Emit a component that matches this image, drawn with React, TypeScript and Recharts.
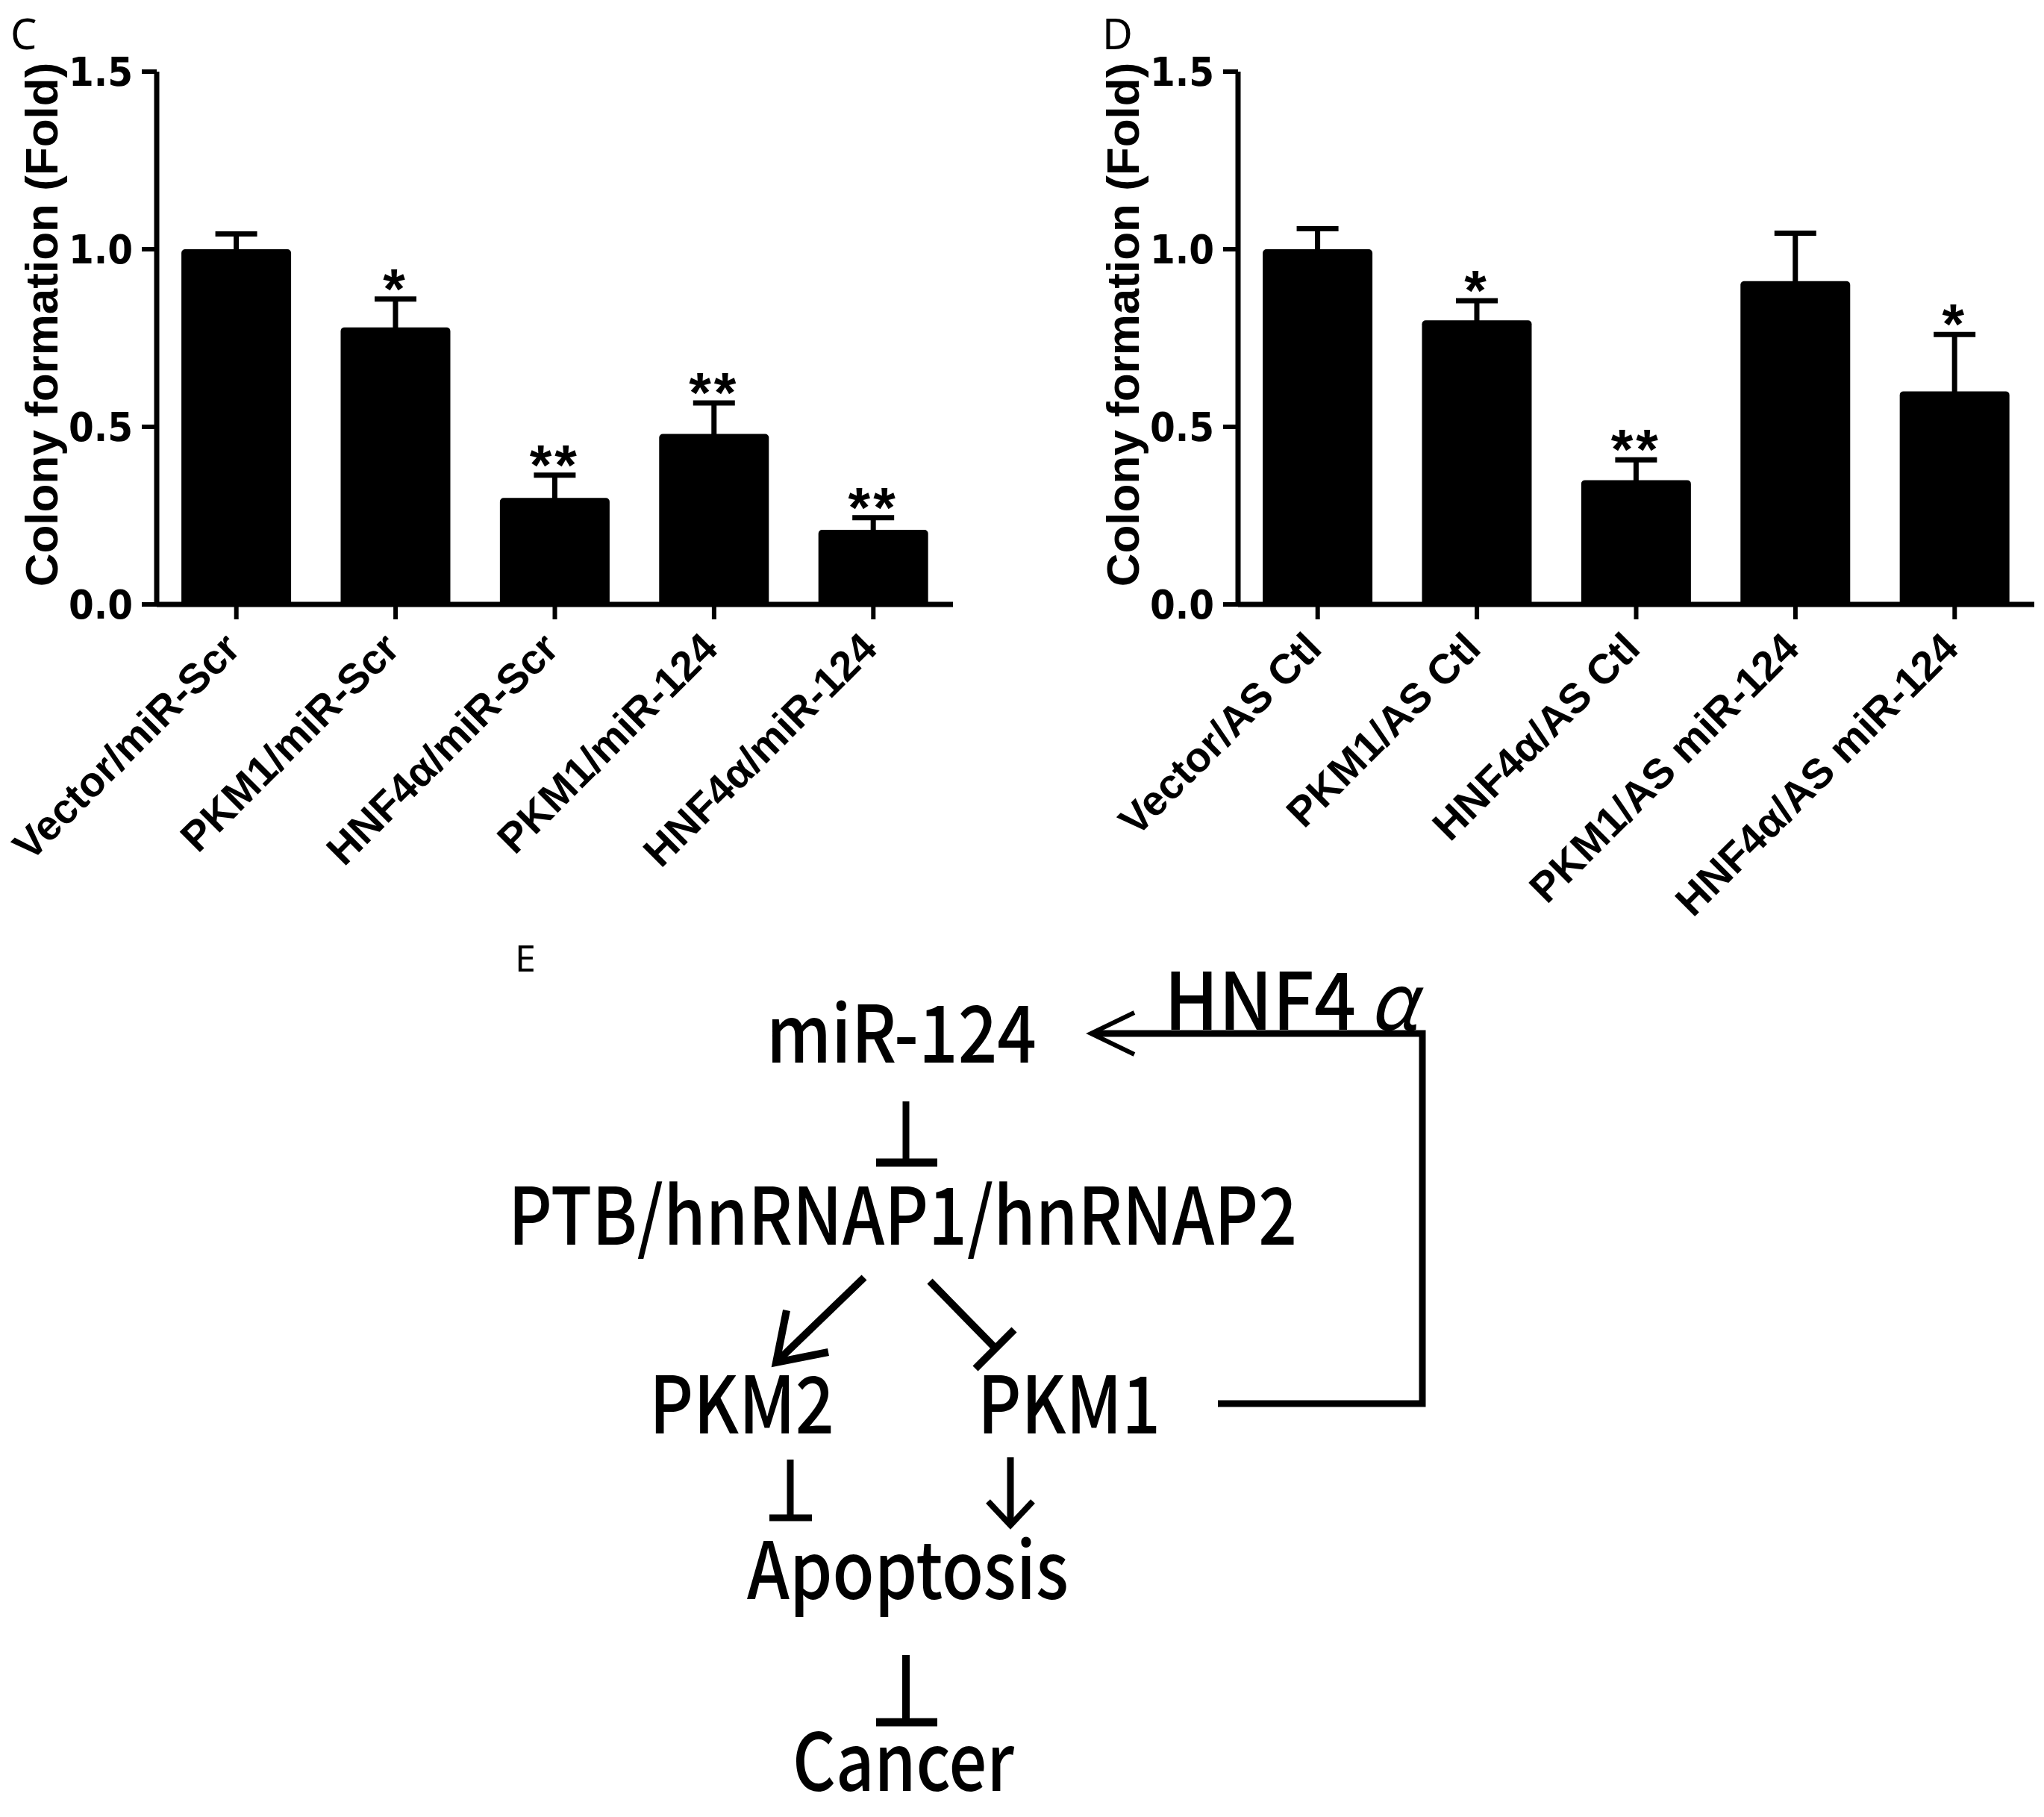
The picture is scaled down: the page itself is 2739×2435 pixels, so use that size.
import React from 'react';
import { BarChart, Bar, XAxis, YAxis, ErrorBar, LabelList } from 'recharts';

// Panel C: colony formation after overexpression + miR-124 mimic
const cGroups = ['Vector/miR-Scr', 'PKM1/miR-Scr', 'HNF4α/miR-Scr', 'PKM1/miR-124', 'HNF4α/miR-124'];
const cMeans = [1.0, 0.78, 0.3, 0.48, 0.21];
const cErrors = [0.043, 0.08, 0.064, 0.087, 0.034];
const cStars = ['', '*', '**', '**', '**'];

// Panel D: colony formation after overexpression + antisense miR-124
const dGroups = ['Vector/AS Ctl', 'PKM1/AS Ctl', 'HNF4α/AS Ctl', 'PKM1/AS miR-124', 'HNF4α/AS miR-124'];
const dMeans = [1.0, 0.8, 0.35, 0.91, 0.6];
const dErrors = [0.058, 0.055, 0.057, 0.135, 0.16];
const dStars = ['', '*', '**', '', '*'];

const yTicks = [0, 0.5, 1.0, 1.5];

const ARIAL = "'Liberation Sans', Arial, sans-serif";
const NARROW = "'Liberation Sans Narrow', 'Arial Narrow', 'DejaVu Sans Condensed', sans-serif";
const SEGOE = "'Noto Sans CJK SC', 'Noto Sans', sans-serif";
const LATIN = "'Noto Sans', 'Open Sans', sans-serif";

const AngledTick = (props: any) => {
    const { x, y, payload } = props;
    const ax = x + 8;
    const ay = y + 40;
    return (
        <text
            x={ax}
            y={ay}
            transform={`rotate(-45 ${ax} ${ay})`}
            textAnchor="end"
            fontFamily={ARIAL}
            fontWeight="bold"
            fontSize={56}
            fill="#000"
        >
            {payload.value}
        </text>
    );
};

const starLabel = (rows: any[]) => (props: any) => {
    const vb = props.viewBox || props;
    const { x, y, width, height } = vb;
    const row = rows[props.index];
    if (!row || !row.star) return null;
    // px per unit from the bar itself, to reach the top of the error cap
    const capY = y - row.err * (height / row.mean);
    return (
        <text
            x={x + width / 2}
            y={capY + 12}
            textAnchor="middle"
            fontFamily={ARIAL}
            fontWeight="bold"
            fontSize={76}
            letterSpacing={4}
            fill="#000"
        >
            {row.star}
        </text>
    );
};

interface PanelProps {
    left: number;
    groups: string[];
    means: number[];
    errors: number[];
    stars: string[];
}

const Panel: React.FC<PanelProps> = ({ left, groups, means, errors, stars }) => {
    const rows = groups.map((name, i) => ({ name, mean: means[i], err: errors[i], star: stars[i] }));

    return (
        <div style={{ position: 'absolute', left, top: 0 }}>
            <BarChart
                width={1290}
                height={1300}
                data={rows}
                margin={{ top: 96, right: 13, bottom: 20, left: 0 }}
                barCategoryGap="15.5%"
            >
                <XAxis
                    dataKey="name"
                    height={470}
                    interval={0}
                    tick={<AngledTick />}
                    tickSize={20}
                    axisLine={{ stroke: '#000', strokeWidth: 7 }}
                    tickLine={{ stroke: '#000', strokeWidth: 6 }}
                />
                <YAxis
                    width={210}
                    domain={[0, 1.5]}
                    ticks={yTicks}
                    tickFormatter={(v) => v.toFixed(1)}
                    tickSize={20}
                    tickMargin={12}
                    axisLine={{ stroke: '#000', strokeWidth: 7 }}
                    tickLine={{ stroke: '#000', strokeWidth: 6 }}
                    tick={{ fill: '#000', fontFamily: NARROW, fontWeight: 'bold', fontSize: 54 }}
                    label={{
                        value: 'Colony formation (Fold)',
                        angle: -90,
                        position: 'insideLeft',
                        dx: 50,
                        dy: -18,
                        style: { textAnchor: 'middle', fontFamily: ARIAL, fontWeight: 'bold', fontSize: 62, fill: '#000' },
                    }}
                />
                <Bar dataKey="mean" fill="#000" radius={[5, 5, 0, 0]} isAnimationActive={false}>
                    <ErrorBar dataKey="err" width={28} stroke="#000" strokeWidth={7} direction="y" />
                    <LabelList dataKey="star" content={starLabel(rows)} />
                </Bar>
            </BarChart>
        </div>
    );
};

// Panel letters and the E pathway schematic
const Schematic: React.FC = () => {
    const txt = { fontFamily: SEGOE, fontSize: 106, fontWeight: 500, fill: '#000', lengthAdjust: 'spacingAndGlyphs' } as const;
    const line = { stroke: '#000', strokeWidth: 9, fill: 'none' } as const;
    const letter = { fontFamily: LATIN, fontSize: 56, fill: '#000' } as const;
    return (
        <svg width={2739} height={2435} style={{ position: 'absolute', left: 0, top: 0 }}>
            <text x={14} y={66} {...letter}>C</text>
            <text x={1477} y={66} {...letter}>D</text>
            <text x={690} y={1302} {...letter} fontSize={50}>E</text>

            <text x={1027} y={1424} textLength={362} {...txt}>miR-124</text>
            <text x={1560} y={1380} textLength={257} {...txt}>HNF4</text>
            <text x={1834} y={1380} fontFamily={SEGOE} fontSize={104} fontStyle="italic" fill="#000">α</text>

            <polyline points="1632,1881 1906,1881 1906,1385 1466,1385" {...line} />
            <polyline points="1520,1357 1462,1385 1520,1413" {...line} strokeWidth={6} />

            <line x1={1214} y1={1476} x2={1214} y2={1556} {...line} />
            <line x1={1174} y1={1558} x2={1256} y2={1558} {...line} strokeWidth={11} />

            <text x={681} y={1668} textLength={1057} {...txt}>PTB/hnRNAP1/hnRNAP2</text>

            <line x1={1158} y1={1712} x2={1046} y2={1820} {...line} strokeWidth={10} />
            <polyline points="1054,1756 1040,1826 1110,1812" {...line} strokeWidth={10} />

            <line x1={1246} y1={1717} x2={1333} y2={1806} {...line} strokeWidth={10} />
            <line x1={1307} y1={1834} x2={1359} y2={1782} {...line} strokeWidth={10} />

            <text x={870} y={1921} textLength={248} {...txt}>PKM2</text>
            <text x={1310} y={1921} textLength={245} {...txt}>PKM1</text>

            <line x1={1059} y1={1956} x2={1059} y2={2033} {...line} />
            <line x1={1031} y1={2034} x2={1088} y2={2034} {...line} strokeWidth={9} />

            <line x1={1354} y1={1953} x2={1354} y2={2042} {...line} />
            <polyline points="1324,2012 1354,2044 1384,2012" {...line} strokeWidth={8} />

            <text x={1001} y={2143} textLength={431} {...txt}>Apoptosis</text>

            <line x1={1214} y1={2218} x2={1214} y2={2305} {...line} strokeWidth={10} />
            <line x1={1174} y1={2308} x2={1256} y2={2308} {...line} strokeWidth={11} />

            <text x={1062} y={2400} textLength={297} {...txt}>Cancer</text>
        </svg>
    );
};

export default function App() {
    return (
        <div style={{ position: 'absolute', left: 0, top: 0, width: 2739, height: 2435, background: '#fff', overflow: 'hidden' }}>
            <Panel left={0} groups={cGroups} means={cMeans} errors={cErrors} stars={cStars} />
            <Panel left={1449} groups={dGroups} means={dMeans} errors={dErrors} stars={dStars} />
            <Schematic />
        </div>
    );
}
